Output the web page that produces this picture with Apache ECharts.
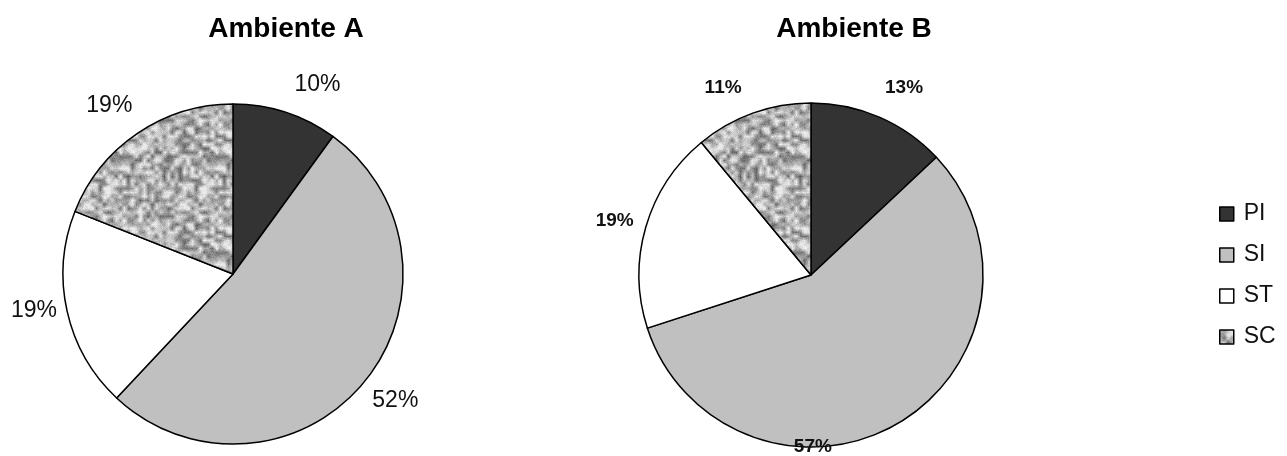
<!DOCTYPE html>
<html>
<head>
<meta charset="utf-8">
<script src="https://cdn.jsdelivr.net/npm/echarts@6/dist/echarts.min.js"></script>
<style>
html,body{margin:0;padding:0;background:#fff;}
#chart{width:1287px;height:456px;}
</style>
</head>
<body>
<div id="chart"></div>
<script>
// ---- data ----
const categories = ['PI', 'SI', 'ST', 'SC'];
const titles = ['Ambiente A', 'Ambiente B'];
const valuesA = [10, 52, 19, 19];
const valuesB = [13, 57, 19, 11];

// ---- texture for SC (deterministic grey noise) ----
function makeNoise() {
  const size = 96, cell = 4, g = size / cell;
  let seed = 12345;
  const rnd = () => { seed = (seed * 1103515245 + 12345) & 0x7fffffff; return seed / 0x7fffffff; };
  const grid = [];
  for (let i = 0; i < g * g; i++) grid.push(rnd());
  const c = document.createElement('canvas');
  c.width = size; c.height = size;
  const ctx = c.getContext('2d');
  const img = ctx.createImageData(size, size);
  for (let y = 0; y < size; y++) {
    for (let x = 0; x < size; x++) {
      const gx = x / cell, gy = y / cell;
      const x0 = Math.floor(gx), y0 = Math.floor(gy);
      const fx = gx - x0, fy = gy - y0;
      const at = (a, b) => grid[((b % g) * g) + (a % g)];
      const v = at(x0, y0) * (1 - fx) * (1 - fy) + at(x0 + 1, y0) * fx * (1 - fy) +
                at(x0, y0 + 1) * (1 - fx) * fy + at(x0 + 1, y0 + 1) * fx * fy;
      let gray = 176 + (v - 0.5) * 150 + (rnd() - 0.5) * 30;
      gray = Math.max(90, Math.min(235, gray));
      const p = (y * size + x) * 4;
      img.data[p] = img.data[p + 1] = img.data[p + 2] = gray;
      img.data[p + 3] = 255;
    }
  }
  ctx.putImageData(img, 0, 0);
  return c;
}
const noise = makeNoise();

const fills = ['#333333', '#c0c0c0', '#ffffff', { image: noise, repeat: 'repeat' }];

// label placement styles (line lengths per slice)
const labelA = [
  { len: 29, len2: 0 },
  { len: 29, len2: -14 },
  { len: -3, len2: 13 },
  { len: 34, len2: -14 }
];
const labelB = [
  { len: 32, len2: -7 },
  { len: 28, len2: -119 },
  { len: 21, len2: -8 },
  { len: 27, len2: 2 }
];

function buildData(values, labelCfg) {
  return categories.map((name, i) => ({
    name: name,
    value: values[i],
    itemStyle: { color: fills[i] },
    labelLine: { show: false, length: labelCfg[i].len, length2: labelCfg[i].len2 }
  }));
}

const chart = echarts.init(document.getElementById('chart'), null, { renderer: 'canvas' });
chart.setOption({
  backgroundColor: '#ffffff',
  animation: false,
  title: [
    { text: titles[0], left: 281, top: 10, textAlign: 'center',
      textStyle: { fontFamily: 'Liberation Sans, Arial', fontSize: 28, fontWeight: 'bold', color: '#000' } },
    { text: titles[1], left: 849, top: 10, textAlign: 'center',
      textStyle: { fontFamily: 'Liberation Sans, Arial', fontSize: 28, fontWeight: 'bold', color: '#000' } }
  ],
  legend: {
    orient: 'vertical',
    left: 1214,
    top: 196,
    itemWidth: 14,
    itemHeight: 14,
    itemGap: 15,
    icon: 'rect',
    data: categories,
    itemStyle: { borderColor: '#000', borderWidth: 1.5 },
    textStyle: { fontFamily: 'Liberation Sans, Arial', fontSize: 23, color: '#111', lineHeight: 26, padding: [0, 0, 0, 5] }
  },
  series: [
    {
      type: 'pie',
      name: titles[0],
      center: [233, 274],
      radius: 170,
      startAngle: 90,
      clockwise: true,
      avoidLabelOverlap: false,
      itemStyle: { borderColor: '#000', borderWidth: 1.5 },
      label: {
        show: true, position: 'outside', formatter: '{d}%', distanceToLabelLine: 0,
        fontFamily: 'Liberation Sans, Arial', fontSize: 23, color: '#111'
      },
      emphasis: { disabled: true },
      data: buildData(valuesA, labelA)
    },
    {
      type: 'pie',
      name: titles[1],
      center: [811, 275],
      radius: 172,
      startAngle: 90,
      clockwise: true,
      avoidLabelOverlap: false,
      itemStyle: { borderColor: '#000', borderWidth: 1.5 },
      label: {
        show: true, position: 'outside', formatter: '{c}%', distanceToLabelLine: 0,
        fontFamily: 'Liberation Sans, Arial', fontSize: 19, fontWeight: 'bold', color: '#111'
      },
      emphasis: { disabled: true },
      data: buildData(valuesB, labelB)
    }
  ]
});
</script>
</body>
</html>
